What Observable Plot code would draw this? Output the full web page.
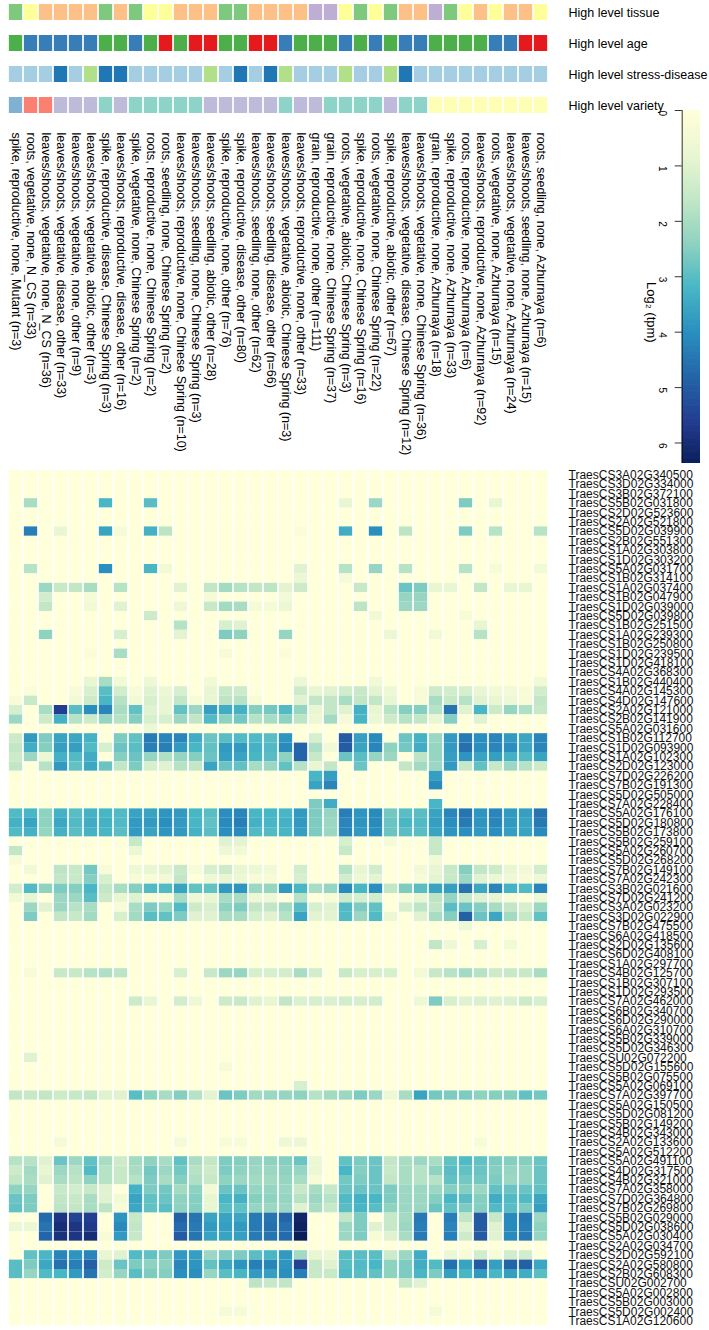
<!DOCTYPE html>
<html><head><meta charset="utf-8">
<script src="https://cdn.jsdelivr.net/npm/d3@7"></script>
<script src="https://cdn.jsdelivr.net/npm/@observablehq/plot@0.6"></script>
<style>
body{margin:0;background:#fff;}
#chart{position:relative;width:709px;height:1330px;overflow:hidden;}
#chart svg{position:absolute;}
</style></head><body><div id="chart"></div>
<script>
const columns = [
"spike, reproductive, none, Mutant (n=3)",
"roots, vegetative, none, N_CS (n=33)",
"leaves/shoots, vegetative, none, N_CS (n=36)",
"leaves/shoots, vegetative, disease, other (n=33)",
"leaves/shoots, vegetative, none, other (n=9)",
"leaves/shoots, vegetative, abiotic, other (n=3)",
"spike, reproductive, disease, Chinese Spring (n=3)",
"leaves/shoots, reproductive, disease, other (n=16)",
"spike, vegetative, none, Chinese Spring (n=2)",
"roots, reproductive, none, Chinese Spring (n=2)",
"roots, seedling, none, Chinese Spring (n=2)",
"leaves/shoots, reproductive, none, Chinese Spring (n=10)",
"leaves/shoots, seedling, none, Chinese Spring (n=3)",
"leaves/shoots, seedling, abiotic, other (n=28)",
"spike, reproductive, none, other (n=76)",
"spike, reproductive, disease, other (n=80)",
"leaves/shoots, seedling, none, other (n=62)",
"leaves/shoots, seedling, disease, other (n=66)",
"leaves/shoots, vegetative, abiotic, Chinese Spring (n=3)",
"leaves/shoots, reproductive, none, other (n=33)",
"grain, reproductive, none, other (n=111)",
"grain, reproductive, none, Chinese Spring (n=37)",
"roots, vegetative, abiotic, Chinese Spring (n=3)",
"spike, reproductive, none, Chinese Spring (n=16)",
"roots, vegetative, none, Chinese Spring (n=22)",
"spike, reproductive, abiotic, other (n=67)",
"leaves/shoots, vegetative, disease, Chinese Spring (n=12)",
"leaves/shoots, vegetative, none, Chinese Spring (n=36)",
"grain, reproductive, none, Azhurnaya (n=18)",
"spike, reproductive, none, Azhurnaya (n=33)",
"roots, reproductive, none, Azhurnaya (n=6)",
"leaves/shoots, reproductive, none, Azhurnaya (n=92)",
"roots, vegetative, none, Azhurnaya (n=15)",
"leaves/shoots, vegetative, none, Azhurnaya (n=24)",
"leaves/shoots, seedling, none, Azhurnaya (n=15)",
"roots, seedling, none, Azhurnaya (n=6)"];

const tissue = ["spike","roots","leaves/shoots","leaves/shoots","leaves/shoots","leaves/shoots","spike","leaves/shoots","spike","roots","roots","leaves/shoots","leaves/shoots","leaves/shoots","spike","spike","leaves/shoots","leaves/shoots","leaves/shoots","leaves/shoots","grain","grain","roots","spike","roots","spike","leaves/shoots","leaves/shoots","grain","spike","roots","leaves/shoots","roots","leaves/shoots","leaves/shoots","roots"];
const age = ["reproductive","vegetative","vegetative","vegetative","vegetative","vegetative","reproductive","reproductive","vegetative","reproductive","seedling","reproductive","seedling","seedling","reproductive","reproductive","seedling","seedling","vegetative","reproductive","reproductive","reproductive","vegetative","reproductive","vegetative","reproductive","vegetative","vegetative","reproductive","reproductive","reproductive","reproductive","vegetative","vegetative","seedling","seedling"];
const stress = ["none","none","none","disease","none","abiotic","disease","disease","none","none","none","none","none","abiotic","none","disease","none","disease","abiotic","none","none","none","abiotic","none","none","abiotic","disease","none","none","none","none","none","none","none","none","none"];
const variety = ["Mutant","N_CS","N_CS","other","other","other","Chinese Spring","other","Chinese Spring","Chinese Spring","Chinese Spring","Chinese Spring","Chinese Spring","other","other","other","other","other","Chinese Spring","other","other","Chinese Spring","Chinese Spring","Chinese Spring","Chinese Spring","other","Chinese Spring","Chinese Spring","Azhurnaya","Azhurnaya","Azhurnaya","Azhurnaya","Azhurnaya","Azhurnaya","Azhurnaya","Azhurnaya"];

const tissueColors = {"spike":"#7FC97F","roots":"#FFFF99","leaves/shoots":"#FDC086","grain":"#BEAED4"};
const ageColors = {"reproductive":"#4DAF4A","vegetative":"#377EB8","seedling":"#E41A1C"};
const stressColors = {"none":"#A6CEE3","disease":"#1F78B4","abiotic":"#B2DF8A"};
const varietyColors = {"Mutant":"#80B1D3","N_CS":"#FB8072","other":"#BEBADA","Chinese Spring":"#8DD3C7","Azhurnaya":"#FFFFB3"};
const annRows = ["High level tissue","High level age","High level stress-disease","High level variety"];

const genes = ["TraesCS3A02G340500","TraesCS3D02G334000","TraesCS3B02G372100","TraesCS5B02G031800","TraesCS2D02G523600","TraesCS2A02G521800","TraesCS5D02G039900","TraesCS2B02G551300","TraesCS1A02G303800","TraesCS1D02G303200","TraesCS5A02G031700","TraesCS1B02G314100","TraesCS1A02G037400","TraesCS1B02G047900","TraesCS1D02G039000","TraesCS5D02G039800","TraesCS1B02G251500","TraesCS1A02G239300","TraesCS1B02G250800","TraesCS1D02G239500","TraesCS1D02G418100","TraesCS4A02G368300","TraesCS1B02G440400","TraesCS4A02G145300","TraesCS4D02G147600","TraesCS2A02G121000","TraesCS2B02G141900","TraesCS5A02G031600","TraesCS1B02G112700","TraesCS1D02G093900","TraesCS1A02G102300","TraesCS2D02G123000","TraesCS7D02G226200","TraesCS7B02G191300","TraesCS5D02G505000","TraesCS7A02G228400","TraesCS5A02G176100","TraesCS5D02G180800","TraesCS5B02G173800","TraesCS5B02G259100","TraesCS5A02G260700","TraesCS5D02G268200","TraesCS7B02G149100","TraesCS7A02G242300","TraesCS3B02G021600","TraesCS7D02G241200","TraesCS3A02G023200","TraesCS3D02G022900","TraesCS7B02G475500","TraesCS6A02G418500","TraesCS2D02G135600","TraesCS6D02G408100","TraesCS1A02G297700","TraesCS4B02G125700","TraesCS1B02G307100","TraesCS1D02G293500","TraesCS7A02G462000","TraesCS6B02G340700","TraesCS6D02G290000","TraesCS6A02G310700","TraesCS5B02G339000","TraesCS5D02G346300","TraesCSU02G072200","TraesCS5D02G155600","TraesCS5B02G075500","TraesCS5A02G069100","TraesCS7A02G397700","TraesCS5A02G150500","TraesCS5D02G081200","TraesCS5B02G149200","TraesCS4B02G343000","TraesCS2A02G133600","TraesCS5A02G512200","TraesCS5A02G491100","TraesCS4D02G317500","TraesCS4B02G321000","TraesCS7A02G358000","TraesCS7D02G364800","TraesCS7B02G269800","TraesCS5B02G029000","TraesCS5D02G038600","TraesCS5A02G030400","TraesCS2A02G034700","TraesCS2D02G592100","TraesCS2A02G580800","TraesCS2B02G608300","TraesCSU02G002700","TraesCS5A02G002800","TraesCS5B02G003000","TraesCS5D02G002400","TraesCS1A02G120600"];

// log2(tpm) per gene (rows) and column (36 values each)
const expr = [
[0,0,0,0,0,0, 0,0,0,0,0,0, 0,0,0,0,0,0, 0,0,0,0,0,0, 0,0,0,0,0,0, 0,0,0,0,0,0],
[0,0,0,0,0,0, 0,0,0,0,0,0, 0,0,0,0,0,0, 0,0,0,0,0,0, 0,0,0,0,0,0, 0,0,0,0,0,0],
[0,0,0,0,0,0, 0,0,0,0,0,0, 0,0,0,0,0,0, 0,0,0,0,0,0, 0,0,0,0,0,0, 0,0,0,0,0,0],
[0,2.0,0,0,0,0, 3.2,0,0,3.0,0,0, 0,0,0,0,0,0, 0,0,0,0,0.8,0, 2.2,0,0,0,0,0, 2.6,0,0.8,0,0,0],
[0,0,0,0,0,0, 0,0,0,0,0,0, 0,0,0,0,0,0, 0,0,0,0,0,0, 0,0,0,0,0,0, 0,0,0,0,0,0],
[0,0,0,0,0,0, 0,0,0,0,0,0, 0,0,0,0,0,0, 0,0,0,0,0,0, 0,0,0,0,0,0, 0,0,0,0,0,0],
[0,4.3,0,0.8,0,0, 3.6,0.4,0,3.3,1.7,0, 0,0,0,0,0,0, 0,0.2,0,0,3.4,0, 4.0,0,1.7,0,0,0, 2.6,0,1.8,0,0,1.8],
[0,0,0,0,0,0, 0,0,0,0,0,0, 0,0,0,0,0,0, 0,0,0,0,0,0, 0,0,0,0,0,0, 0,0,0,0,0,0],
[0,0,0,0,0,0, 0,0,0,0,0,0, 0,0,0,0,0,0, 0,0,0,0,0,0, 0,0,0,0,0,0, 0,0,0,0,0,0],
[0,0,0,0,0,0, 0,0,0,0,0,0, 0,0,0,0,0,0, 0,0,0,0,0,0, 0,0,0,0,0,0, 0,0,0,0,0,0],
[0,1.8,0,0,0,0, 4.0,0,0,3.2,0.5,0, 0,0,0,0,0,0, 0,1.0,0,0,1.8,0, 2.3,0,1.8,0,0,0, 1.8,0,0.3,0,0,0.5],
[0,0,0,0,0,0, 0,0,0,0,0,0, 0,0,0,0,0,0, 0,0.7,0,0,0.4,0, 0,0,0,0,0,0, 0,0,0,0,0,0],
[0,0,2.2,1.5,1.6,2.0, 0,1.8,0,0,0,1.0, 0,1.6,2.1,1.8,1.6,1.7, 0.9,1.4,0,0,0,1.5, 0,0,2.8,2.6,0.8,0.8, 0,1.6,0,0.8,0.8,0],
[0,0,1.3,0,0,0.4, 0,0,0,0,0,0, 0,0.4,0,0,0,0, 0.5,0,0,0,0,0, 0,0,2.3,2.3,0,0, 0,0,0,0,0,0],
[0,0,1.6,0,0,0.5, 0,1.0,0,0,0,0.6, 0,1.5,2.1,2.0,0.4,0.4, 0.7,0,0,0,0,1.7, 0,0,2.2,2.2,0,0, 0,0,0,0,0,0],
[0,0,0,0,0,0, 0,0,0,1.4,0,0, 0,0,0,0,0,0, 0,0,0,0,0,0, 0.5,0,0,0,0,0, 0.3,0,0,0,0,0],
[0,0,0,0,0,0, 0,0,0,0,0,1.8, 0,0,1.2,1.0,0,0, 0,0,0,0,0,0, 0,0,0,0,0,0, 0,0.8,0,0,0,0],
[0,0,2.4,0,0,0, 0,1.2,0,0,0,0.9, 0,0,2.6,2.4,0,0, 2.3,0,0,0,0,0, 0,0.7,0,0,0.5,0, 0,1.8,0,0,0,0],
[0,0,0,0,0,0, 0,0,0,0,0,0, 0,0,0,0,0,0, 0,0,0,0,0,0, 0,0,0,0,0,0, 0,0,0,0,0,0],
[0,0,0,0,0,0.2, 0,2.0,0,0,0,0, 0,0,0.3,0,0,0, 0.2,0,0,0,0,0, 0,0,0,0,0,0, 0,0,0,0,0,0],
[0,0,0,0,0,0, 0,0,0,0,0,0, 0,0,0,0,0,0, 0,0,0,0,0,0, 0,0,0,0,0,0, 0,0,0,0,0,0],
[0,0,0,0,0,0, 0,0,0,0,0,0, 0,0,0,0,0,0, 0,0,0,0,0,0, 0,0,0,0,0,0, 0,0,0,0,0,0],
[0,0,0,0,0,0.8, 2.0,0.5,0,0.6,0,0, 0,0.5,0,0,0,0, 0,0.7,0,0,0,0, 0.5,0,0,0,0,0, 0,0,0,0,0,0.5],
[0,0.2,0,0,0.3,1.2, 3.0,1.3,0.3,1.0,0.7,1.2, 0,0.8,1.5,1.4,0,0, 0,1.4,0.8,1.0,1.3,1.5, 0.9,0.6,0,0.3,1.4,1.3, 1.2,0.8,0.5,0.5,0.3,1.3],
[0.3,1.5,0,0,0.5,1.4, 3.2,1.8,0.5,1.2,0.8,1.6, 0.3,0.8,1.7,1.8,0.3,0, 0,1.0,1.6,1.6,2.0,1.6, 1.6,0.8,0,0.3,2.0,1.5, 1.8,1.0,0.8,0.6,0.3,1.6],
[1.2,0,2.0,5.6,3.0,4.0, 4.2,2.0,2.9,1.0,0.8,2.9, 2.2,3.7,3.4,3.3,2.5,2.7, 3.1,2.3,0.8,1.6,1.0,3.3, 0.8,1.8,2.5,2.5,1.8,4.5, 1.0,3.2,1.4,2.3,1.9,1.5],
[2.2,0,1.4,3.3,1.8,1.4, 2.3,1.8,2.5,1.2,1.2,2.2, 1.6,3.1,2.4,2.7,1.8,2.0, 2.4,1.7,0.7,2.1,0.4,3.2, 0.7,1.4,1.8,1.6,0.8,2.5, 0,1.0,0,0,0,0],
[0,0,0,0,0,0, 0,0,0,0.7,0,0, 0,0,0,0,0,0, 0,0,0,0,0,0, 0,0,0,0,0,0, 0,0,0,0,0,0],
[1.4,3.8,2.6,3.6,3.5,3.3, 0,2.6,2.9,4.4,4.2,4.2, 3.4,2.8,3.0,3.1,3.1,3.0, 3.9,0,1.2,0,5.0,3.7, 4.1,0,2.8,3.3,2.2,3.8, 4.4,4.0,4.2,3.8,3.5,4.2],
[1.6,3.4,2.5,3.7,3.7,3.1, 1.2,2.8,3.0,4.3,4.3,3.8, 3.2,2.9,3.8,3.8,3.3,3.1, 4.1,4.8,1.9,0.5,5.0,3.6, 4.2,2.4,2.7,3.4,2.3,3.8, 4.6,4.0,4.2,4.0,3.5,4.2],
[1.4,2.2,0.7,3.3,3.1,3.4, 0,2.5,2.8,2.3,1.9,2.3, 2.5,2.8,3.7,3.6,3.2,3.0, 2.4,4.8,1.5,0,2.8,3.0, 2.3,2.2,0,1.7,2.3,3.7, 3.9,3.6,3.7,3.3,3.1,3.6],
[1.6,0,1.8,3.8,2.9,3.5, 2.8,1.6,2.6,1.2,1.0,1.8, 1.6,3.6,2.8,2.9,2.0,2.2, 2.9,1.8,0.8,1.6,0,2.8, 0,0,1.6,2.1,2.2,3.8, 1.5,2.9,1.5,2.2,1.8,1.4],
[0,0,0,0,0,0, 0,0,0,0,0,0, 0,0,0,0,0,0, 0,0,3.2,3.7,0,0, 0,0,0,0,3.7,0, 0,0,0,0,0,0],
[0,0,0,0,0,0, 0,0,0,0,0,0, 0,0,0,0,0,0, 0,0,3.6,4.2,0,0, 0,0,0,0,4.1,0, 0,0,0,0,0,0],
[0,0,0,0,0,0, 0,0,0,0,0,0, 0,0,0,0,0,0, 0,0,0,0,0,0, 0,0,0,0,0,0, 0,0,0,0,0,0],
[0,0,0,0,0,0, 0,0,0,0,0,0, 0,0,0,0,0,0, 0,0,2.6,3.4,0,0, 0,0,0,0,3.2,0, 0,0,0,0,0,0],
[3.1,3.2,2.4,3.3,3.0,3.3, 3.2,3.1,3.6,3.6,3.9,3.8, 3.2,3.0,4.0,4.2,3.2,3.2, 3.2,3.8,2.6,2.3,4.3,3.9, 4.1,2.7,3.0,3.0,3.6,4.2, 4.5,3.9,4.2,3.8,3.7,4.5],
[3.3,3.6,2.4,3.5,3.1,3.4, 3.3,3.1,3.8,3.8,4.0,3.8, 3.2,2.9,4.1,4.3,3.3,3.2, 3.3,3.8,2.6,2.2,4.2,3.9, 4.1,2.8,3.2,3.1,3.7,4.0, 4.4,3.9,4.2,3.8,3.6,4.4],
[3.1,3.3,2.3,3.3,3.0,3.3, 3.2,3.0,3.8,3.6,3.9,3.8, 3.3,3.0,4.0,4.1,3.1,3.1, 3.2,3.7,2.6,2.2,4.2,3.8, 4.0,2.8,3.0,3.0,3.6,3.9, 4.0,3.8,4.0,3.7,3.6,4.1],
[0,0,0,0,0,0, 0,0,1.5,0,0,0, 0,0,1.0,0.9,0,0, 0,0,0,0,1.2,0, 0,0.4,0,0,1.5,0, 0,0,0,0,0,0],
[1.6,0,0,0,0,0, 0,0,0.7,0,0,0, 0,0,0.6,0.5,0,0, 0,0,0,0,1.5,0, 0,0,0,0,1.5,0, 0,0,0,0,0,0],
[0.3,0,0,0,0,0, 0,0,0,0,0,0, 0,0,0,0,0,0, 0,0,0,0,0,0, 0,0,0,0,0.5,0, 0,0,0,0,0,0],
[0,0.5,0,1.7,1.5,2.7, 0.3,0,0.6,0.8,0.9,1.5, 0.3,1.2,1.4,0.8,0.7,0.5, 0,1.3,0,0,1.8,0.8, 1.3,0,0,0.5,0.8,1.5, 2.5,1.6,1.4,0.8,0.5,1.3],
[0,0,0,1.6,1.5,2.5, 1.2,0,0.3,0.3,0.5,1.6, 0,0.6,0.8,0.7,0.3,0.3, 0,1.2,0,0,1.3,0.6, 0.9,0,0,0.3,0.9,1.5, 2.2,1.0,0.7,0.6,0.3,0.6],
[1.3,3.1,2.4,2.6,2.5,3.2, 1.6,2.0,2.5,3.1,3.1,3.6, 2.9,2.9,3.8,3.9,2.2,2.3, 3.8,3.2,2.0,2.3,4.1,3.2, 4.0,1.6,2.6,3.0,3.6,3.7, 4.5,3.5,4.2,3.3,3.1,4.2],
[0.5,0.8,0,2.2,2.2,3.0, 1.4,0.8,1.0,0.3,0.3,2.0, 0.6,0.8,2.0,2.0,0.6,0.6, 0,1.8,0,0.3,1.4,1.2, 1.3,0,0.3,0.8,1.7,2.3, 1.5,1.0,0.8,0.3,0,0.6],
[0,2.2,1.0,2.2,1.8,2.0, 0,0.3,2.0,2.6,2.3,3.1, 1.4,1.2,2.4,2.6,1.6,1.6, 2.1,3.0,1.2,1.0,3.1,2.6, 2.9,0,1.2,1.7,1.6,3.0, 2.8,2.5,2.0,1.6,1.2,2.2],
[0,2.6,0,1.6,1.5,2.1, 0,1.2,2.1,3.0,2.9,2.6, 1.0,1.0,2.0,2.0,1.2,1.0, 1.8,3.6,0.9,0.9,3.1,2.2, 3.1,0.7,0,1.0,2.0,2.5, 4.9,2.8,3.5,2.1,1.5,2.9],
[0,0,0,0,0,0, 0,0,0,0,0,0, 0,0,0,0,0,0, 0,0,0,0,0,0, 0,0,0,0,0,0, 0.6,0,0,0,0,0],
[0,0,0,0,0,0, 0,0,0,0,0,0, 0,0,0,0,0,0, 0,0,0,0,0,0, 0,0,0,0,0,0, 0,0,0,0,0,0],
[0,0,0,0,0,0, 0,0,0,0,0,0, 0,0,0,0,0,0, 0,0,0,0,0,0, 0,0,0,0,1.6,0.6, 0,1.2,0,0.5,0,0],
[0,0,0,0,0,0, 0,0,0,0,0,0, 0,0,0,0,0,0, 0,0,0,0,0,0, 0,0,0,0,0,0, 0,0,0,0,0,0],
[0,0,0,0,0,0, 0,0,0,0,0,0, 0,0,0,0,0,0, 0,0,0,0,0,0, 0,0,0,0,0,0, 0,0,0,0,0,0],
[0,0.3,0,1.5,1.5,1.8, 1.9,1.7,0,0,0,1.2, 0,1.5,2.2,2.3,1.2,1.2, 1.3,2.0,1.3,0,1.5,1.2, 1.2,1.2,0,0.5,1.5,1.8, 2.1,1.8,1.4,1.5,1.5,2.0],
[0,0,0,0,0,0, 0,0,0,0,0,0, 0,0,0,0,0,0, 0,0,0,0,0,0, 0,0,0,0,0,0, 0,0,0,0,0,0],
[0,0,0,0,0,0, 0,0,0,0,0,0, 0,0,0,0,0,0, 0,0,0,0,0,0, 0,0,0,0,0,0, 0,0,0,0,0,0],
[0,0,0,0,0,0, 0,0,1.4,0.8,0,1.3, 0.6,0,1.4,1.5,1.0,0.8, 1.6,1.1,1.2,1.1,1.3,1.2, 1.3,0,0,0.6,2.6,1.2, 1.0,1.1,1.0,1.1,1.4,1.2],
[0,0,0,0,0,0, 0,0,0,0,0,0, 0,0,0,0,0,0, 0,0,0,0,0,0, 0,0,0,0,0,0, 0,0,0,0,0,0],
[0,0,0,0,0,0, 0,0,0,0,0,0, 0,0,0,0,0,0, 0,0,0,0,0,0, 0,0,0,0,0,0, 0,0,0,0,0,0],
[0,0,0,0,0,0, 0,0,0,0,0,0, 0,0,0,0,0,0, 0,0,0,0,0,0, 0,0,0,0,0,0, 0,0,0,0,0,0],
[0,0,0,0,0,0, 0,0,0,0,0,0, 0,0,0,0,0,0, 0,0,0,0,0,0, 0,0,0,0,0,0, 0,0,0,0,0,0],
[0,0,0,0,0,0, 0,0,0,0,0,0, 0,0,0,0,0,0, 0,0,0,0,0,0, 0,0,0,0,0,0, 0,0,0,0,0,0],
[0,1.0,0,0,0,0, 0,0,0,0,0,0, 0,0,0,0,0,0, 0,0,0,0,0,0, 0,0,0,0,0,0, 0,0,0,0,0,0],
[0,0,0,0,0,0, 0,0,0,0,0,0, 0,0,0.3,0,0,0, 0,0,0,0,0,0, 0,0,0,0,0,0, 0,0,0,0,0,0],
[0,0,0,0,0,0, 0,0,0,0,0,0, 0,0,0,0,0,0, 0,0,0,0,0,0, 0,0,0,0,0,0, 0,0,0,0,0,0],
[0,0,0,0,0,0, 0,0,0,0,0,0, 0,0,0,0,0,0, 0,1.2,0,0,0,0, 0,0,0,0,0,0, 0,0,0,0,0,0],
[1.6,1.5,1.6,1.4,1.5,1.6, 1.0,1.0,3.0,2.4,2.0,2.5, 1.8,0.9,2.8,2.6,2.1,2.2, 2.3,2.4,1.8,2.1,2.2,2.6, 2.2,0.6,2.0,3.6,2.7,2.6, 2.6,2.4,2.5,2.5,2.9,2.7],
[0,0,0,0,0,0, 0,0,0,0,0,0, 0,0,0,0,0,0, 0,0,0,0,0,0, 0,0,0,0,0,0, 0,0,0,0,0,0],
[0,0,0,0,0,0, 0,0,0,0,0,0, 0,0,0,0,0,0, 0,0,0,0,0,0, 0,0,0,0,0,0, 0,0,0,0,0,0],
[0,0,0,0,0,0, 0,0,0,0,0,0, 0,0,0,0,0,0, 0,0,0,0,0,0, 0,0,0,0,0,0, 0,0,0,0,0,0],
[0,0,0,0,0,0, 0,0,0,0,0,0, 0,0,0,0,0,0, 0,0,0,0,0,0, 0,0,0,0,0,0, 0,0,0,0,0,0],
[0,0,0,0.4,0,0, 0,0,0,0,0,0.4, 0,0,0.3,0.3,0,0, 0.6,0.7,0,0,0,0, 0,0,0,0,0,0, 0,0.3,0,0,0,0],
[0,0,0,0,0,0, 0,0,0,0,0,0, 0,0,0,0,0,0, 0,0,0,0,0,0, 0,0,0,0,0,0, 0,0,0,0,0,0],
[1.8,1.8,1.0,2.8,2.2,2.9, 2.0,1.4,2.1,2.4,2.0,2.9, 2.0,1.6,2.6,2.5,2.3,2.4, 2.5,2.8,0.7,0,2.9,2.6, 2.8,1.6,2.0,2.2,2.0,2.9, 3.1,2.9,2.6,2.5,2.5,2.8],
[1.4,2.1,0.8,2.2,1.8,3.1, 1.8,1.5,2.0,2.7,2.2,2.7, 1.8,1.4,2.6,2.4,2.2,2.2, 2.4,2.3,0.7,0,3.2,2.5, 2.8,1.5,2.0,1.8,2.4,3.0, 2.9,2.8,2.5,2.3,2.3,2.8],
[1.6,2.0,1.0,2.0,1.7,2.4, 1.8,1.5,1.8,2.6,2.0,2.5, 1.9,1.5,2.4,2.2,2.1,2.1, 2.3,2.0,0.3,0,2.7,2.6, 2.8,1.6,2.0,1.8,1.8,2.9, 2.7,2.7,2.6,2.2,2.3,2.8],
[2.4,2.3,0,1.5,1.3,1.5, 1.0,0,3.3,2.6,2.7,2.1, 2.4,0.5,2.8,2.8,2.3,2.3, 2.2,1.5,2.0,1.5,2.8,2.8, 2.8,2.6,2.2,2.2,2.2,2.5, 2.5,2.2,2.9,2.8,2.8,2.9],
[2.8,2.6,0,1.6,1.5,2.0, 1.0,0.5,3.6,2.9,2.8,2.4, 2.5,0.8,3.2,3.3,2.5,2.4, 2.3,1.8,2.2,1.8,3.1,3.3, 3.2,2.6,2.2,2.2,2.5,3.2, 3.0,2.5,3.4,3.1,3.1,3.5],
[2.9,2.6,0,1.7,1.6,2.0, 1.7,0.3,3.5,2.9,3.0,2.4, 2.5,0.8,3.0,2.9,2.3,2.2, 2.2,1.0,2.0,1.5,3.0,3.2, 3.0,2.4,2.2,2.2,2.8,2.9, 2.6,2.5,3.1,3.0,2.6,3.7],
[0,0,4.7,5.8,5.5,5.6, 0,3.9,1.5,0,0,4.9, 4.5,3.6,3.6,3.5,4.4,4.5, 4.8,6.2,0,0,1.6,2.6, 0,1.5,2.1,4.4,0,4.3, 1.6,5.0,1.5,4.1,4.4,2.2],
[0.7,0.7,4.5,6.0,5.8,5.7, 0,4.1,1.6,0,0,4.7, 4.4,3.8,3.7,3.8,4.4,4.6, 4.6,6.3,0,0,2.2,2.6, 1.0,1.5,2.2,4.3,0,4.2, 1.0,5.0,1.0,4.1,4.3,2.4],
[0,0,4.8,5.9,5.8,6.0, 0.3,3.8,1.5,0,0,5.0, 4.5,3.6,3.6,3.7,4.4,4.5, 4.7,6.4,0,0,2.2,2.6, 0.3,1.0,2.0,4.4,0,4.3, 1.4,5.0,1.0,4.1,4.4,2.3],
[0,0,0,0,0,0, 0,0,0,0,0,0, 0,0,0,0,0,0, 0,0,0,0,0,0, 0,0,0,0,0,0, 0,0,0,0,0,0],
[0,2.9,3.2,4.2,3.9,4.2, 0.8,1.0,3.1,2.9,2.6,3.8, 3.7,2.2,2.6,2.6,3.0,3.2, 3.8,2.1,0.8,0.7,3.0,3.0, 3.0,1.4,2.2,3.4,0,0.7, 0.3,1.3,0.3,1.3,1.3,0],
[3.0,2.6,3.5,4.6,4.3,4.9, 1.4,2.8,2.6,2.4,2.4,4.2, 3.9,2.9,3.5,3.9,4.3,4.2, 3.9,5.5,1.5,1.0,3.0,3.1, 3.2,2.4,2.6,3.4,3.1,4.6, 3.6,5.0,3.7,4.8,4.9,3.5],
[3.0,2.3,3.1,3.2,3.8,4.5, 1.3,2.3,3.0,2.6,2.5,4.0, 4.0,2.3,3.0,3.2,3.8,3.7, 4.0,4.3,1.5,1.5,3.1,3.0, 2.9,2.4,2.6,3.2,2.6,3.7, 3.2,3.8,3.2,3.7,3.4,3.0],
[0,0,0,0,0,0, 0,0,0,0,0,0, 0,0,0,0,1.7,1.5, 1.6,0,0,0,0,0, 0,0,1.5,1.0,0,0, 0,0,0,0,0,0],
[0,0,0,0,0,0, 0,0,0,0,0,0, 0,0,0,0,0,0, 0,0,0,0,0,0, 0,0,0,0,0,0, 0,0,0,0,0,0],
[0,0,0,0,0,0, 0,0,0,0,0,0, 0,0,0,0,0,0, 0,0,0,0,0,0, 0,0,0,0,0,0, 0,0,0,0,0,0],
[0,0,0,0,0,0, 0,0,0,0,0,0, 0,0,0.4,0.4,0,0, 0,0,0,0,0,0, 0,0,0,0,0.4,0, 0,0,0,0,0,0],
[0,0,0,0,0,0, 0,0,0,0,0,0, 0,0,0,0,0,0, 0,0,0,0,0,0, 0,0,0,0,0,0, 0,0,0,0,0,0]
];

const colorTicks = [0,1,2,3,4,5,6];
const colorMax = 6.37;
const legendTitle = "Log\u2082 (tpm)";
// YlGnBu-like ramp (stops as seen on the reference colour bar)
const rampStops = [0, 0.8, 1.6, 2.4, 3.2, 4.0, 4.8, 5.6, colorMax];
const rampColors = ["#ffffd9","#e9f6d2","#c3e7c6","#8ed2c0","#48b6c5","#2a8fbf","#2465a9","#233d91","#0b1f5c"];
const colorScale = {type: "linear", domain: rampStops, range: rampColors, interpolate: "rgb"};

const FONT = "'Liberation Sans', Arial, Helvetica, sans-serif";
const chart = document.getElementById("chart");
const colIdx = columns.map((c, i) => i);

// ---- annotation rows + column labels ----
const annData = [];
colIdx.forEach(i => {
  annData.push({i, row: annRows[0], fill: tissueColors[tissue[i]]});
  annData.push({i, row: annRows[1], fill: ageColors[age[i]]});
  annData.push({i, row: annRows[2], fill: stressColors[stress[i]]});
  annData.push({i, row: annRows[3], fill: varietyColors[variety[i]]});
});
const annTop = 4, annLen = 109;
const ann = Plot.plot({
  width: 709, height: 470,
  marginLeft: 3.6, marginRight: 156, marginTop: annTop, marginBottom: 470 - annTop - annLen,
  style: {background: "transparent", fontFamily: FONT, fontSize: "12px", color: "#000"},
  x: {type: "band", domain: colIdx, padding: 0, axis: null},
  y: {type: "band", domain: annRows, paddingInner: 0.5, paddingOuter: 0, axis: null},
  color: {type: "identity"},
  marks: [
    Plot.cell(annData, {x: "i", y: "row", fill: "fill", insetLeft: 0.85, insetRight: 0.85, insetTop: 0, insetBottom: 0}),
    Plot.text(annRows, {y: d => d, frameAnchor: "right", dx: 15, textAnchor: "start", fontSize: 12.5, fill: "#000"}),
    Plot.text(colIdx, {x: d => d, text: d => columns[d], frameAnchor: "bottom", dy: 19, rotate: 90, textAnchor: "start", lineAnchor: "middle", fontSize: 12.5, fill: "#000"})
  ]
});
ann.style.left = "0px"; ann.style.top = "0px";
chart.appendChild(ann);

// ---- colour bar ----
const nSteps = 300;
const barSlices = d3.range(nSteps).map(k => ({v1: colorMax * k / nSteps, v2: colorMax * (k + 1.6) / nSteps}));
const cbar = Plot.plot({
  width: 79, height: 370,
  marginLeft: 51.7, marginRight: 9, marginTop: 10, marginBottom: 7,
  style: {background: "transparent", fontFamily: FONT, color: "#000"},
  x: {domain: [0, 1], axis: null},
  y: {domain: [0, colorMax], reverse: true, axis: null},
  color: colorScale,
  marks: [
    Plot.rect(barSlices, {x1: 0, x2: 1, y1: "v1", y2: d => Math.min(d.v2, colorMax), fill: "v1", inset: 0}),
    Plot.ruleX([0], {y1: 0, y2: colorMax, stroke: "#000", strokeWidth: 0.8}),
    Plot.ruleY(colorTicks, {x1: -0.38, x2: 0, stroke: "#000", strokeWidth: 0.8}),
    Plot.text(colorTicks, {y: d => d, text: d => String(d), frameAnchor: "left", dx: -20, rotate: 90, fontSize: 10, fill: "#000"}),
    Plot.text([legendTitle], {frameAnchor: "left", dx: -31.5, dy: -5, rotate: 90, fontSize: 13, fill: "#000"})
  ]
});
cbar.style.left = "630px"; cbar.style.top = "100px";
chart.appendChild(cbar);

// ---- heatmap ----
const cells = [];
genes.forEach((g, r) => colIdx.forEach(j => cells.push({gene: g, i: j, value: expr[r][j]})));
const heat = Plot.plot({
  width: 709, height: 870,
  marginLeft: 3.6, marginRight: 156, marginTop: 10, marginBottom: 4.6,
  style: {background: "transparent", fontFamily: FONT, fontSize: "12px", color: "#111"},
  x: {type: "band", domain: colIdx, padding: 0, axis: null},
  y: {type: "band", domain: genes, padding: 0, axis: "right", tickSize: 0, tickPadding: 15, label: null},
  color: colorScale,
  marks: [
    Plot.cell(cells, {x: "i", y: "gene", fill: "value", insetLeft: 0.85, insetRight: 0.85, insetTop: 0, insetBottom: 0})
  ]
});
heat.style.left = "0px"; heat.style.top = "460px";
chart.appendChild(heat);
</script>
</body></html>
